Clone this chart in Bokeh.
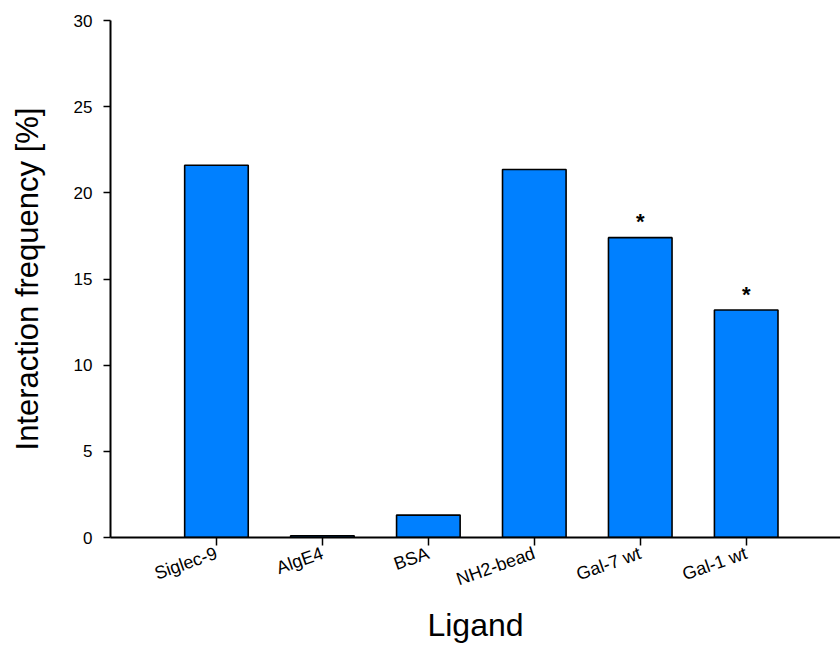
from bokeh.plotting import figure
from bokeh.models import ColumnDataSource, FixedTicker, Range1d
from bokeh.core.properties import value
from bokeh.embed import file_html
from bokeh.resources import INLINE

ligands = ["Siglec-9", "AlgE4", "BSA", "NH2-bead", "Gal-7 wt", "Gal-1 wt"]
frequency = [21.6, 0.1, 1.3, 21.35, 17.4, 13.2]
significance = ["", "", "", "", "*", "*"]
y_ticks = [0, 5, 10, 15, 20, 25, 30]

positions = list(range(1, len(ligands) + 1))
src = ColumnDataSource(dict(x=positions, top=frequency, sig=significance))

FONT = "Liberation Sans"

p = figure(width=840, height=646, output_backend="svg", toolbar_location=None,
           x_range=Range1d(0, 6.89), y_range=Range1d(0, 30),
           min_border_left=110, min_border_right=0, min_border_top=20,
           min_border_bottom=109)

p.vbar(x="x", top="top", width=0.6, bottom=0, source=src,
       fill_color="#0080FF", line_color="black", line_width=1.6)
p.text(x="x", y="top", text="sig", source=src, text_align="center",
       text_baseline="middle", y_offset=-16, text_font=value(FONT),
       text_font_size="22px", text_font_style="bold", text_color="black")

p.outline_line_color = None
p.xgrid.grid_line_color = None
p.ygrid.grid_line_color = None
p.background_fill_color = "white"
p.border_fill_color = "white"

# y axis
p.yaxis.ticker = FixedTicker(ticks=y_ticks)
p.yaxis.axis_label = "Interaction frequency [%]"
p.yaxis.axis_label_text_font = FONT
p.yaxis.axis_label_text_font_size = "31px"
p.yaxis.axis_label_text_font_style = "normal"
p.yaxis.axis_label_text_color = "black"
p.yaxis.axis_label_standoff = 26
p.yaxis.major_label_text_font = FONT
p.yaxis.major_label_text_font_size = "17px"
p.yaxis.major_label_text_color = "black"
p.yaxis.major_label_standoff = 11
p.yaxis.major_tick_out = 7
p.yaxis.major_tick_in = 0
p.yaxis.minor_tick_line_color = None
p.yaxis.axis_line_width = 2
p.yaxis.major_tick_line_width = 1.5
p.yaxis.axis_line_color = "black"

# x axis
p.xaxis.ticker = FixedTicker(ticks=positions)
p.xaxis.major_label_overrides = {i + 1: name for i, name in enumerate(ligands)}
p.xaxis.major_label_orientation = 0.34
p.xaxis.axis_label = "Ligand"
p.xaxis.axis_label_text_font = FONT
p.xaxis.axis_label_text_font_size = "32px"
p.xaxis.axis_label_text_font_style = "normal"
p.xaxis.axis_label_text_color = "black"
p.xaxis.axis_label_standoff = 5
p.xaxis.major_label_text_font = FONT
p.xaxis.major_label_text_font_size = "18px"
p.xaxis.major_label_text_color = "black"
p.xaxis.major_label_standoff = 7
p.xaxis.major_tick_out = 8
p.xaxis.major_tick_in = 0
p.xaxis.minor_tick_line_color = None
p.xaxis.axis_line_width = 2
p.xaxis.major_tick_line_width = 1.5
p.xaxis.axis_line_color = "black"

open("out.html", "w").write(file_html(p, INLINE))
